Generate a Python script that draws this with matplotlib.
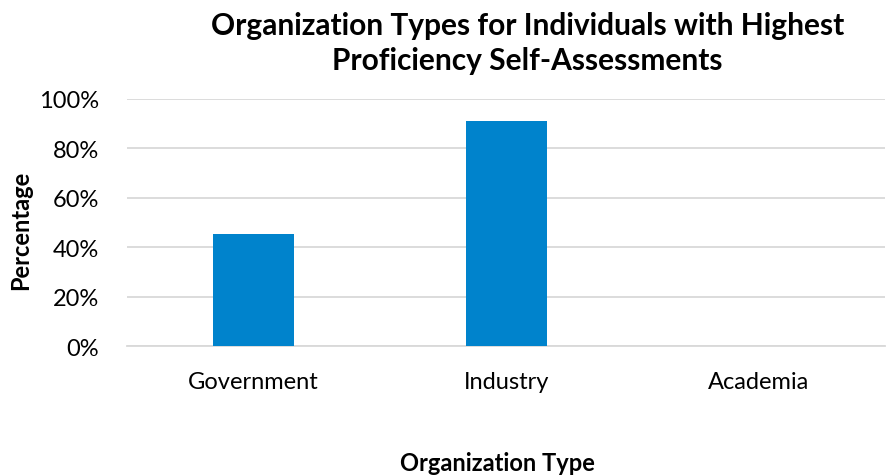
import matplotlib.pyplot as plt
from matplotlib.ticker import PercentFormatter

plt.rcParams['font.family'] = ['Lato', 'DejaVu Sans']

# data
categories = ['Government', 'Industry', 'Academia']
percentages = [45.45, 90.91, 0.0]

fig = plt.figure(figsize=(8.86, 4.77), dpi=100)
ax = fig.add_axes([0.1433, 0.2725, 0.856, 0.518])

ax.bar(range(len(categories)), percentages, width=0.32, color='#0083CC', zorder=3)

ax.set_xlim(-0.5, len(categories) - 0.5)
ax.set_ylim(0, 100)
ax.set_yticks(range(0, 101, 20))
ax.yaxis.set_major_formatter(PercentFormatter(decimals=0))
ax.set_xticks(range(len(categories)))
ax.set_xticklabels(categories)
ax.tick_params(axis='both', length=0, labelsize=17, colors='#000000')
ax.tick_params(axis='x', pad=18)
ax.tick_params(axis='y', pad=20)

ax.grid(axis='y', color='#D9D9D9', linewidth=1.3, zorder=0)
for s in ['top', 'right', 'left']:
    ax.spines[s].set_visible(False)
ax.spines['bottom'].set_color('#D9D9D9')
ax.spines['bottom'].set_linewidth(1.3)

fig.text(0.595, 0.975, 'Organization Types for Individuals with Highest\nProficiency Self-Assessments',
         ha='center', va='top', fontsize=21.5, fontweight='bold', linespacing=1.32)
fig.text(0.561, 0.029, 'Organization Type', ha='center', va='center', fontsize=17, fontweight='bold')
fig.text(0.023, 0.518, 'Percentage', ha='center', va='center', rotation=90, fontsize=17, fontweight='bold')

fig.savefig('out.png', dpi=100)
